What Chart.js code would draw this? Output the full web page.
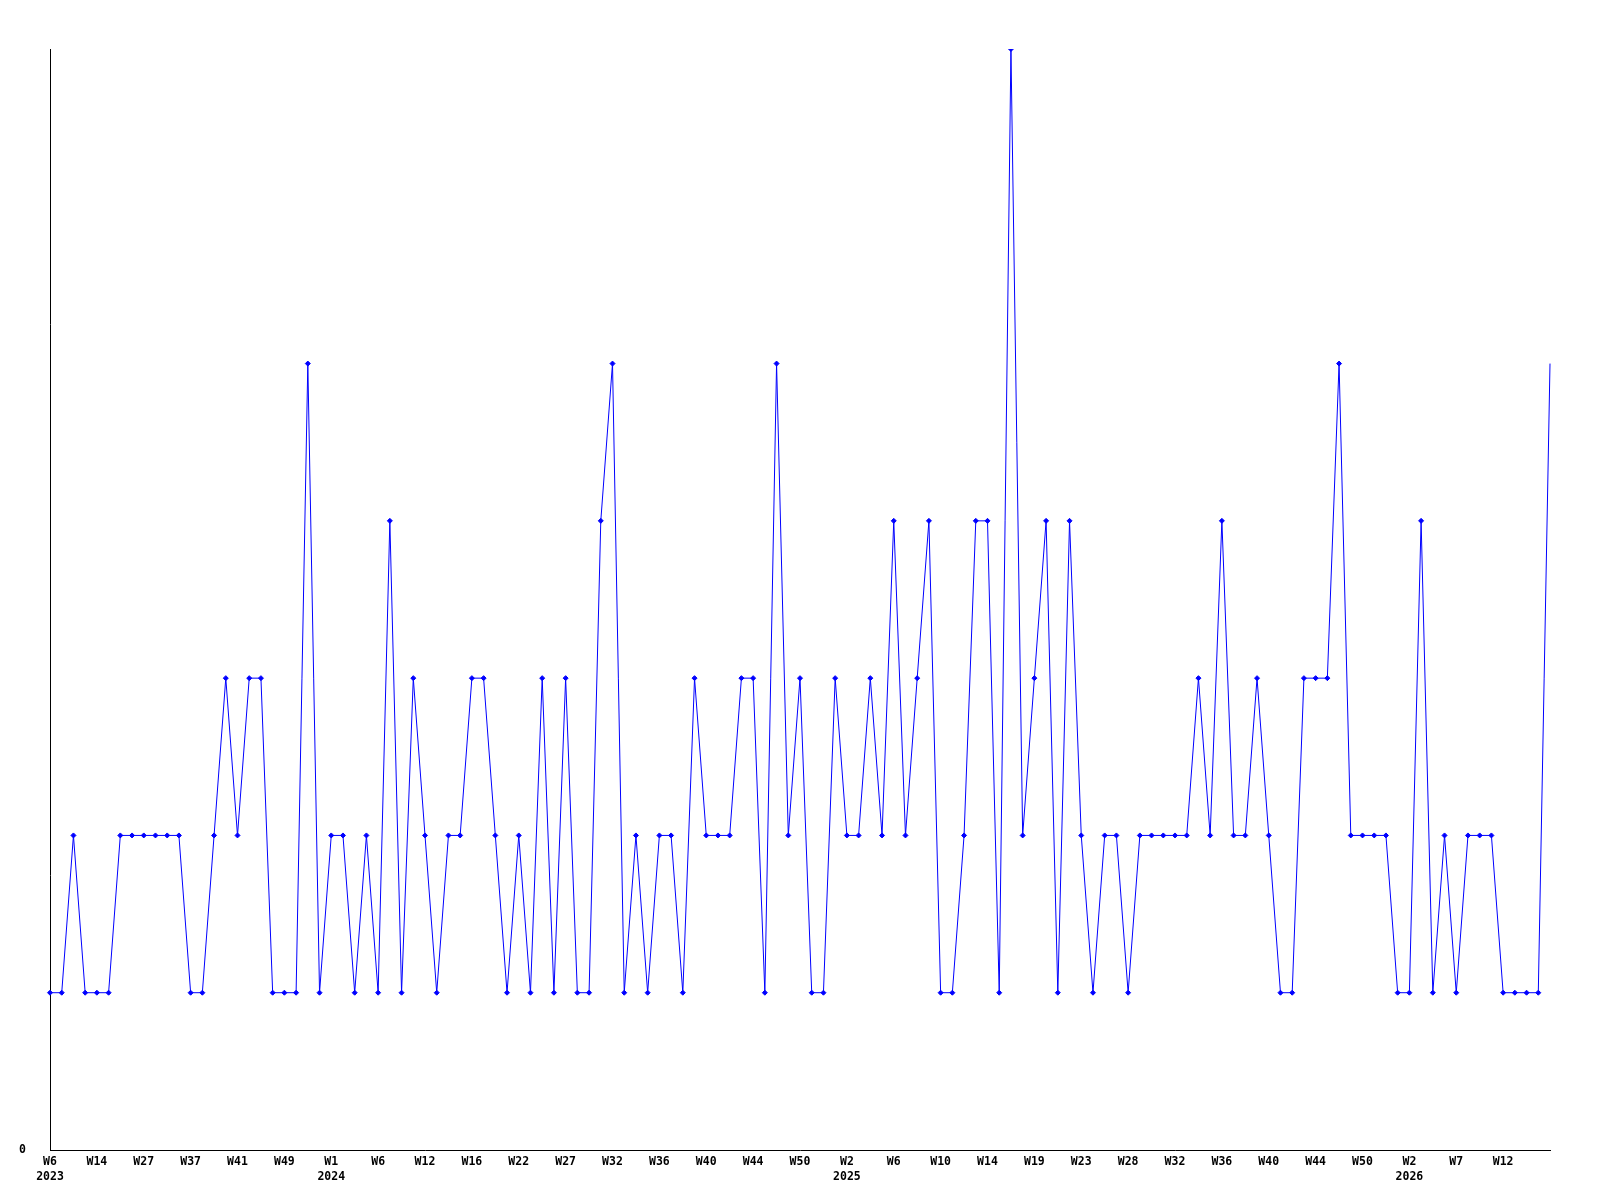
<!DOCTYPE html>
<html>
<head>
<meta charset="utf-8">
<script src="https://cdn.jsdelivr.net/npm/chart.js@4/dist/chart.umd.min.js"></script>
<style>
  html, body { margin: 0; padding: 0; background: #ffffff; }
  #wrap { width: 1600px; height: 1200px; position: relative; }
</style>
</head>
<body>
<div id="wrap"><canvas id="c" width="1600" height="1200"></canvas></div>
<script>
// Week categories (year-week); only every 4th is labelled on the axis
const categories = [
  '2023-W6','2023-W7','2023-W9','2023-W11','2023-W14','2023-W17','2023-W20','2023-W24',
  '2023-W27','2023-W29','2023-W32','2023-W35','2023-W37','2023-W38','2023-W39','2023-W40',
  '2023-W41','2023-W43','2023-W45','2023-W47','2023-W49','2023-W50','2023-W51','2023-W52',
  '2024-W1','2024-W2','2024-W4','2024-W5','2024-W6','2024-W7','2024-W9','2024-W11',
  '2024-W12','2024-W13','2024-W14','2024-W15','2024-W16','2024-W17','2024-W19','2024-W21',
  '2024-W22','2024-W23','2024-W24','2024-W26','2024-W27','2024-W28','2024-W30','2024-W31',
  '2024-W32','2024-W33','2024-W34','2024-W35','2024-W36','2024-W37','2024-W38','2024-W39',
  '2024-W40','2024-W41','2024-W42','2024-W43','2024-W44','2024-W45','2024-W47','2024-W49',
  '2024-W50','2024-W51','2024-W52','2025-W1','2025-W2','2025-W3','2025-W4','2025-W5',
  '2025-W6','2025-W7','2025-W8','2025-W9','2025-W10','2025-W11','2025-W12','2025-W13',
  '2025-W14','2025-W15','2025-W16','2025-W18','2025-W19','2025-W20','2025-W21','2025-W22',
  '2025-W23','2025-W24','2025-W25','2025-W27','2025-W28','2025-W29','2025-W30','2025-W31',
  '2025-W32','2025-W33','2025-W34','2025-W35','2025-W36','2025-W37','2025-W38','2025-W39',
  '2025-W40','2025-W41','2025-W42','2025-W43','2025-W44','2025-W45','2025-W47','2025-W48',
  '2025-W50','2025-W51','2025-W52','2026-W1','2026-W2','2026-W3','2026-W5','2026-W6',
  '2026-W7','2026-W8','2026-W10','2026-W11','2026-W12','2026-W13','2026-W14','2026-W15',
  '2026-W16'
];

// Weekly counts
const counts = [
  1,1,2,1,1,1,2,2,2,2,
  2,2,1,1,2,3,2,3,3,1,
  1,1,5,1,2,2,1,2,1,4,
  1,3,2,1,2,2,3,3,2,1,
  2,1,3,1,3,1,1,4,5,1,
  2,1,2,2,1,3,2,2,2,3,
  3,1,5,2,3,1,1,3,2,2,
  3,2,4,2,3,4,1,1,2,4,
  4,1,7,2,3,4,1,4,2,1,
  2,2,1,2,2,2,2,2,3,2,
  4,2,2,3,2,1,1,3,3,3,
  5,2,2,2,2,1,1,4,1,2,
  1,2,2,2,1,1,1,1,5
];

const yTicks = [0];
const yMax = 7;
const labelEvery = 4;
const lastLabelIndex = 124;

const tickFont = { family: '"DejaVu Sans Mono", "Liberation Mono", monospace', size: 11.5, weight: 'bold', lineHeight: 1.3 };

new Chart(document.getElementById('c'), {
  type: 'line',
  data: {
    labels: categories,
    datasets: [{
      data: counts,
      borderColor: '#0000ff',
      backgroundColor: '#0000ff',
      borderWidth: 1,
      tension: 0,
      fill: false,
      pointStyle: 'rectRot',
      pointRadius: (ctx) => (ctx.dataIndex === counts.length - 1 ? 0 : 2.5),
      pointBorderWidth: 1,
      pointBackgroundColor: '#0000ff',
      pointBorderColor: '#0000ff'
    }]
  },
  options: {
    responsive: false,
    animation: false,
    layout: { padding: { top: 49, right: 50, left: 0, bottom: 0 } },
    plugins: { legend: { display: false }, tooltip: { enabled: false } },
    scales: {
      x: {
        type: 'category',
        offset: false,
        grid: { display: false },
        border: { display: true, color: '#000000', width: 1 },
        afterFit: (s) => { s.height = 50; },
        ticks: {
          autoSkip: false,
          maxRotation: 0,
          minRotation: 0,
          padding: -3,
          color: '#000000',
          font: tickFont,
          callback: function (val, index) {
            if (index % labelEvery !== 0 || index > lastLabelIndex) return '';
            const [yr, wk] = categories[index].split('-');
            let prevYear = null;
            if (index >= labelEvery) prevYear = categories[index - labelEvery].split('-')[0];
            return (prevYear !== yr) ? [wk, yr] : wk;
          }
        }
      },
      y: {
        min: 0,
        max: yMax,
        grid: { display: false },
        border: { display: true, color: '#000000', width: 1 },
        afterFit: (s) => { s.width = 50; },
        afterBuildTicks: (s) => { s.ticks = yTicks.map(v => ({ value: v })); },
        ticks: {
          padding: 16,
          color: '#000000',
          font: tickFont,
          callback: (v) => String(v)
        }
      }
    }
  }
});
</script>
</body>
</html>
